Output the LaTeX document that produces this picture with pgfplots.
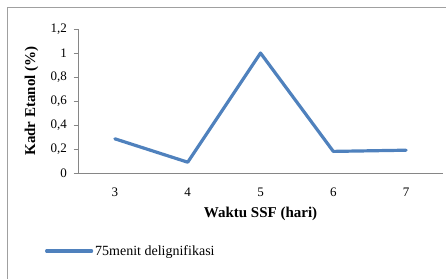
\documentclass[border=0pt]{standalone}
\usepackage{pgfplots}
\pgfplotsset{compat=1.18}
\usepackage{fontspec}
\setmainfont{Liberation Serif}
\definecolor{lineblue}{HTML}{4F81BD}
\definecolor{axgrey}{HTML}{868686}
\definecolor{bordergrey}{HTML}{A0A0A0}
\begin{document}
\begin{tikzpicture}[x=1bp,y=1bp]
\useasboundingbox (0,0) rectangle (446,278);
\draw[bordergrey, line width=1bp] (7.5,-5) rectangle (450,270.5);
\begin{axis}[
  at={(78.5bp,105bp)}, anchor=origin,
  scale only axis, width=364bp, height=144bp,
  xmin=2.5, xmax=7.5, ymin=0, ymax=1.2,
  xtick={3,4,5,6,7},
  ytick={0,0.2,0.4,0.6,0.8,1,1.2},
  yticklabels={0,{0,2},{0,4},{0,6},{0,8},1,{1,2}},
  axis x line=bottom, axis y line=left,
  axis line style={axgrey, line width=0.8bp, -},
  x axis line style={-}, y axis line style={-},
  xtick style={draw=none},
  ytick style={axgrey, line width=0.8bp},
  tick align=outside,
  major tick length=5bp,
  ticklabel style={font=\fontsize{13bp}{15bp}\selectfont, text=black},
  /pgf/number format/assume math mode=true,
  xticklabel style={yshift=-6bp},
  yticklabel style={xshift=-3bp},
  xlabel={\textbf{Waktu SSF (hari)}},
  ylabel={\textbf{Kadr Etanol (\%)}},
  label style={font=\fontsize{15bp}{17bp}\selectfont},
  xlabel style={at={(rel axis cs:0.5,0)}, anchor=center, yshift=-41bp},
  ylabel style={at={(rel axis cs:0,0.5)}, anchor=center, yshift=47bp},
  legend style={at={(rel axis cs:-0.092,-0.542)}, anchor=west, draw=none, fill=none,
    font=\fontsize{14bp}{16bp}\selectfont, inner sep=0pt, outer sep=0pt},
  legend cell align=left,
  legend image code/.code={\draw[#1, line cap=round] (0bp,0bp) -- (45bp,0bp);},
  clip=false,
]
\addplot[lineblue, line width=3.2bp, line join=round, line cap=round] coordinates {
  (3,0.285) (4,0.09) (5,1.0) (6,0.18) (7,0.19)
};
\addlegendentry{75menit delignifikasi}
\end{axis}
\end{tikzpicture}
\end{document}
